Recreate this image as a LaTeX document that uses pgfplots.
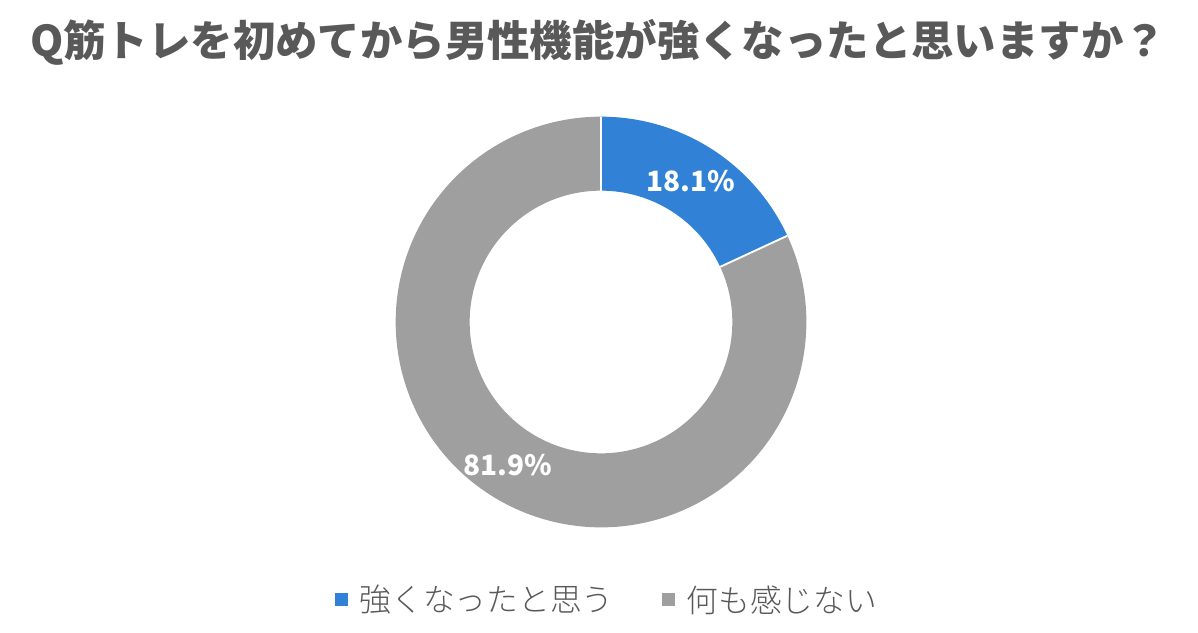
\documentclass[border=0pt]{standalone}
\usepackage{pgfplots}
\pgfplotsset{compat=1.18}
\usepackage{pgfplotstable}
\usepackage{fontspec}
\newfontfamily\cjk{Noto Sans CJK JP}
\newfontfamily\cjklight{Noto Sans CJK JP Light}
\definecolor{blueC}{RGB}{49,129,214}
\definecolor{grayC}{RGB}{160,159,160}
\definecolor{txt}{RGB}{89,89,89}
\pgfplotstableread{
label value
A 18.1
B 81.9
}\piedata
\pgfplotstablegetelem{0}{value}\of\piedata
\let\va\pgfplotsretval
\pgfmathsetmacro\angA{90-3.6*\va}
\begin{document}
\begin{tikzpicture}
\begin{axis}[x=0.75pt,y=0.75pt,xmin=0,xmax=1198,ymin=0,ymax=632,hide axis,clip=false]
\path (axis cs:0,0) rectangle (axis cs:1198,632);
\coordinate (C) at (axis cs:601,310);
\def\Ro{154pt}\def\Ri{98.5pt}
% grey wedge
\fill[grayC] (C) ++(\angA:\Ro) arc[start angle=\angA,end angle=-270,radius=\Ro] -- ([shift={(-270:\Ri)}]C) arc[start angle=-270,end angle=\angA,radius=\Ri] -- cycle;
% blue wedge
\fill[blueC] (C) ++(90:\Ro) arc[start angle=90,end angle=\angA,radius=\Ro] -- ([shift={(\angA:\Ri)}]C) arc[start angle=\angA,end angle=90,radius=\Ri] -- cycle;
\draw[white,line width=1.4pt] ([shift={(90:\Ri)}]C) -- ([shift={(90:\Ro)}]C);
\draw[white,line width=1.4pt] ([shift={(\angA:\Ri)}]C) -- ([shift={(\angA:\Ro)}]C);
\node[white,font=\cjk\bfseries\fontsize{21}{24}\selectfont] at (axis cs:691,451) {18.1\%};
\node[white,font=\cjk\bfseries\fontsize{21}{24}\selectfont] at (axis cs:508,167) {81.9\%};
\node[txt,font=\cjk\bfseries\fontsize{31.8}{36}\selectfont] at (axis cs:598,590) {Q筋トレを初めてから男性機能が強くなったと思いますか？};
\fill[blueC] (axis cs:335,26) rectangle (axis cs:348,39);
\node[txt,anchor=west,font=\cjklight\fontsize{23.8}{27}\selectfont] at (axis cs:355,32) {強くなったと思う};
\fill[grayC] (axis cs:662,26) rectangle (axis cs:675,39);
\node[txt,anchor=west,font=\cjklight\fontsize{23.8}{27}\selectfont] at (axis cs:682,32) {何も感じない};
\end{axis}
\end{tikzpicture}
\end{document}
